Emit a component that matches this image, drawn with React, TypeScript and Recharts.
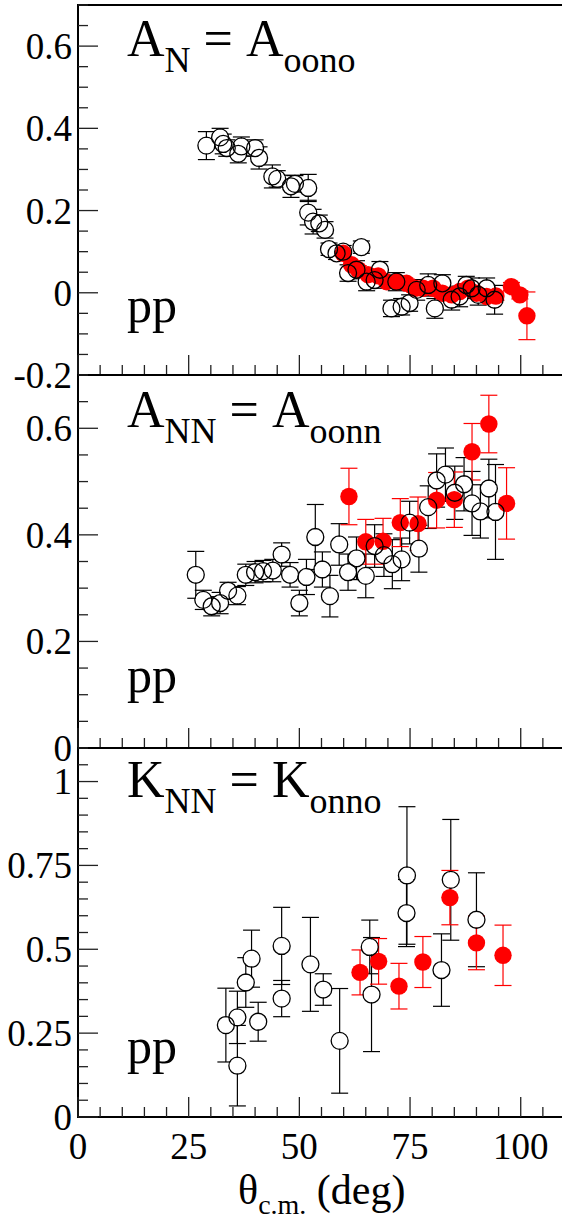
import React from 'react'
import { ScatterChart, Scatter, XAxis, YAxis, ErrorBar, ReferenceArea, Customized } from 'recharts'

// [theta_cm (deg), value, error]
type Pt = [number, number, number]

const anOpen: Pt[] = [
  [29.0, 0.358, 0.034], [32.1, 0.378, 0.022], [32.8, 0.362, 0.024], [33.6, 0.352, 0.02],
  [36.2, 0.338, 0.022], [36.9, 0.356, 0.023], [40.0, 0.352, 0.02], [40.9, 0.328, 0.027],
  [43.9, 0.283, 0.028], [45.0, 0.277, 0.02], [48.1, 0.259, 0.027], [49.0, 0.265, 0.02],
  [52.0, 0.255, 0.033], [52.0, 0.195, 0.03], [53.1, 0.173, 0.03], [54.5, 0.169, 0.02],
  [55.8, 0.153, 0.02], [56.7, 0.106, 0.015], [58.4, 0.096, 0.015], [59.9, 0.1, 0.015],
  [61.0, 0.048, 0.02], [62.9, 0.056, 0.022], [64.0, 0.111, 0.015], [65.2, 0.027, 0.022],
  [67.0, 0.031, 0.02], [68.2, 0.056, 0.02], [70.8, -0.038, 0.02], [71.9, 0.027, 0.022],
  [73.1, -0.034, 0.02], [74.9, -0.025, 0.02], [76.5, 0.007, 0.025], [79.1, 0.019, 0.027],
  [80.6, -0.038, 0.024], [82.3, 0.023, 0.021], [84.4, -0.017, 0.025], [86.2, -0.009, 0.025],
  [87.7, 0.019, 0.021], [88.9, 0.011, 0.025], [90.4, -0.005, 0.025], [92.3, 0.011, 0.025],
  [94.1, -0.017, 0.035],
]
const anRed: Pt[] = [
  [59.9, 0.096, 0.01], [61.8, 0.068, 0.01], [63.3, 0.056, 0.01], [65.5, 0.044, 0.01],
  [67.8, 0.041, 0.01], [69.7, 0.027, 0.01], [72.1, 0.027, 0.01], [74.2, 0.023, 0.01],
  [76.1, 0.011, 0.01], [77.9, 0.011, 0.01], [80.2, 0.011, 0.01], [82.3, -0.001, 0.01],
  [84.4, -0.005, 0.01], [86.2, 0.003, 0.01], [88.1, 0.011, 0.01], [90.0, -0.001, 0.01],
  [92.3, -0.009, 0.01], [94.4, -0.008, 0.01], [97.9, 0.015, 0.01], [99.8, -0.005, 0.01],
  [101.4, -0.056, 0.058],
]

const annOpen: Pt[] = [
  [26.6, 0.325, 0.044], [28.3, 0.278, 0.018], [30.2, 0.266, 0.018], [32.1, 0.272, 0.02],
  [33.9, 0.295, 0.016], [36.0, 0.286, 0.017], [37.9, 0.325, 0.02], [40.0, 0.33, 0.02],
  [41.8, 0.332, 0.02], [44.0, 0.333, 0.021], [46.0, 0.363, 0.022], [47.9, 0.325, 0.023],
  [50.0, 0.272, 0.024], [51.6, 0.321, 0.033], [53.6, 0.396, 0.061], [55.2, 0.335, 0.033],
  [56.9, 0.285, 0.039], [59.0, 0.382, 0.039], [61.0, 0.33, 0.034], [62.9, 0.356, 0.04],
  [65.0, 0.323, 0.041], [67.0, 0.379, 0.04], [69.1, 0.362, 0.04], [71.0, 0.345, 0.046],
  [73.1, 0.354, 0.04], [74.9, 0.423, 0.04], [77.0, 0.374, 0.044], [79.1, 0.452, 0.04],
  [81.0, 0.502, 0.05], [83.0, 0.513, 0.05], [85.1, 0.479, 0.05], [87.2, 0.495, 0.05],
  [89.0, 0.459, 0.06], [90.9, 0.444, 0.05], [92.8, 0.487, 0.055], [94.3, 0.443, 0.089],
]
const annRed: Pt[] = [
  [61.2, 0.472, 0.053], [65.0, 0.387, 0.042], [68.9, 0.388, 0.043], [72.8, 0.423, 0.045],
  [76.8, 0.421, 0.05], [81.0, 0.465, 0.052], [85.0, 0.466, 0.052], [89.0, 0.556, 0.053],
  [92.8, 0.608, 0.054], [96.8, 0.459, 0.067],
]

const knnOpen: Pt[] = [
  [33.4, 0.274, 0.11], [36.0, 0.297, 0.078], [36.0, 0.153, 0.12], [37.9, 0.401, 0.074],
  [39.2, 0.472, 0.085], [40.7, 0.284, 0.058], [46.0, 0.51, 0.115], [46.0, 0.353, 0.054],
  [52.5, 0.455, 0.14], [55.4, 0.38, 0.047], [59.1, 0.227, 0.156], [65.9, 0.507, 0.08],
  [66.3, 0.365, 0.17], [74.3, 0.72, 0.205], [74.2, 0.608, 0.1], [82.1, 0.438, 0.108],
  [84.2, 0.707, 0.18], [90.0, 0.588, 0.14],
]
const knnRed: Pt[] = [
  [63.7, 0.431, 0.067], [67.9, 0.464, 0.068], [72.5, 0.39, 0.068], [77.9, 0.462, 0.076],
  [84.0, 0.654, 0.081], [90.0, 0.519, 0.08], [96.0, 0.482, 0.09],
]

const xLabels = [0, 25, 50, 75, 100]
const anYLabels = [-0.2, 0, 0.2, 0.4, 0.6]
const annYLabels = [0, 0.2, 0.4, 0.6]
const knnYLabels = [0, 0.25, 0.5, 0.75, 1]

const FONT = 'Liberation Serif'
const txt = { fontFamily: FONT }

// minor tick positions, every `step` between lo and hi
const steps = (lo: number, hi: number, step: number) => {
  const out: number[] = []
  for (let i = 0; lo + i * step <= hi + 1e-9; i++) out.push(Math.round((lo + i * step) * 1000) / 1000)
  return out
}
const xTicks = steps(0, 110, 5)

const rows = (pts: Pt[]) => pts.map(([x, y, e]) => ({ x, y, e }))

const near = (list: number[], v: number) => list.some((l) => Math.abs(l - v) < 1e-6)

function XTick(props: any) {
  const { x, y, payload, labels } = props
  const v = payload.value
  const major = v % 25 === 0
  return (
    <g>
      <line x1={x} y1={y} x2={x} y2={y - (major ? 20 : 10)} stroke="#222" strokeWidth={1.3} />
      {labels && near(xLabels, v) && (
        <text x={x} y={y + 42} textAnchor="middle" style={txt} fontSize={37} fill="#000">{v}</text>
      )}
    </g>
  )
}

function YTick(props: any) {
  const { x, y, payload, labels, major } = props
  const v = payload.value
  const isMajor = near(major, v)
  return (
    <g>
      <line x1={x} y1={y} x2={x + (isMajor ? 20 : 10)} y2={y} stroke="#222" strokeWidth={1.3} />
      {near(labels, v) && (
        <text x={x - 6} y={y} dy="0.35em" textAnchor="end" style={txt} fontSize={37} fill="#000">{String(v)}</text>
      )}
    </g>
  )
}

const noShape = () => <g />
const maskShape = (p: any) => <circle cx={p.cx} cy={p.cy} r={7.8} fill="#fff" />
const redShape = (p: any) => <circle cx={p.cx} cy={p.cy} r={8.7} fill="#ff0000" />
const ringShape = (p: any) => <circle cx={p.cx} cy={p.cy} r={8.5} fill="none" stroke="#000" strokeWidth={1.3} />

interface PanelProps {
  top: number
  height: number
  marginTop: number
  xHeight: number
  yDomain: [number, number]
  yStep: number
  yMajor: number[]
  yLabels: number[]
  open: Pt[]
  red: Pt[]
  showX: boolean
  notes: React.ReactNode
}

function Panel({ top, height, marginTop, xHeight, yDomain, yStep, yMajor, yLabels, open, red, showX, notes }: PanelProps) {
  const openRows = rows(open)
  const redRows = rows(red)
  return (
    <div style={{ position: 'absolute', left: 0, top }}>
      <ScatterChart width={570} height={height} margin={{ top: marginTop, right: 5, bottom: 0, left: 0 }}>
        <XAxis
          type="number" dataKey="x" domain={[0, 110]} ticks={xTicks} interval={0}
          tickSize={0} tickMargin={0} tickLine={false} height={xHeight} allowDataOverflow
          axisLine={{ stroke: '#000', strokeWidth: 2 }} tick={<XTick labels={showX} />}
        />
        <YAxis
          type="number" dataKey="y" domain={yDomain} ticks={steps(yDomain[0], yDomain[1], yStep)} interval={0}
          tickSize={0} tickMargin={0} tickLine={false} width={78} allowDataOverflow
          axisLine={{ stroke: '#000', strokeWidth: 2 }} tick={<YTick labels={yLabels} major={yMajor} />}
        />
        <ReferenceArea x1={0} x2={110} y1={yDomain[0]} y2={yDomain[1]} fill="none" stroke="#000" strokeWidth={2} ifOverflow="visible" />
        <Scatter data={openRows} shape={noShape} isAnimationActive={false}>
          <ErrorBar dataKey="e" direction="y" width={8.5} stroke="#000" strokeWidth={1.2} isAnimationActive={false} />
        </Scatter>
        <Scatter data={openRows} shape={maskShape} isAnimationActive={false} />
        <Scatter data={redRows} shape={redShape} isAnimationActive={false}>
          <ErrorBar dataKey="e" direction="y" width={8.5} stroke="#ff0000" strokeWidth={1.2} isAnimationActive={false} />
        </Scatter>
        <Scatter data={openRows} shape={ringShape} isAnimationActive={false} />
        <Customized component={() => <g>{notes}</g>} />
      </ScatterChart>
    </div>
  )
}

const Title = ({ y, main, sub1, main2, sub2 }: { y: number; main: string; sub1: string; main2: string; sub2: string }) => (
  <text x={127} y={y} style={txt} fontSize={52} fill="#000">
    {main}
    <tspan fontSize={36} dy={16}>{sub1}</tspan>
    <tspan dy={-16}>{'\u00a0=\u00a0' + main2}</tspan>
    <tspan fontSize={36} dy={16}>{sub2}</tspan>
  </text>
)

const PP = ({ y }: { y: number }) => (
  <text x={127} y={y} style={txt} fontSize={50} fill="#000">pp</text>
)

export default function App() {
  return (
    <div style={{ position: 'absolute', left: 0, top: 0, width: 562, height: 1214, overflow: 'hidden', background: '#fff', fontFamily: FONT }}>
      <Panel
        top={0} height={400} marginTop={5} xHeight={25}
        yDomain={[-0.2, 0.7]} yStep={0.05} yMajor={[-0.2, 0, 0.2, 0.4, 0.6]} yLabels={anYLabels}
        open={anOpen} red={anRed} showX={false}
        notes={<><Title y={56} main="A" sub1="N" main2="A" sub2="oono" /><PP y={322} /></>}
      />
      <Panel
        top={350} height={423} marginTop={25} xHeight={25}
        yDomain={[0, 0.7]} yStep={0.05} yMajor={[0, 0.2, 0.4, 0.6]} yLabels={annYLabels}
        open={annOpen} red={annRed} showX={false}
        notes={<><Title y={77} main="A" sub1="NN" main2="A" sub2="oonn" /><PP y={342} /></>}
      />
      <Panel
        top={723} height={491} marginTop={25} xHeight={97}
        yDomain={[0, 1.1]} yStep={0.05} yMajor={[0, 0.25, 0.5, 0.75, 1]} yLabels={knnYLabels}
        open={knnOpen} red={knnRed} showX={true}
        notes={
          <>
            <Title y={74} main="K" sub1="NN" main2="K" sub2="onno" />
            <PP y={340} />
            <text x={238} y={481} style={txt} fontSize={42} fill="#000">
              θ<tspan fontSize={28} dy={10}>c.m.</tspan>
              <tspan dy={-10}>{'\u00a0(deg)'}</tspan>
            </text>
          </>
        }
      />
    </div>
  )
}
